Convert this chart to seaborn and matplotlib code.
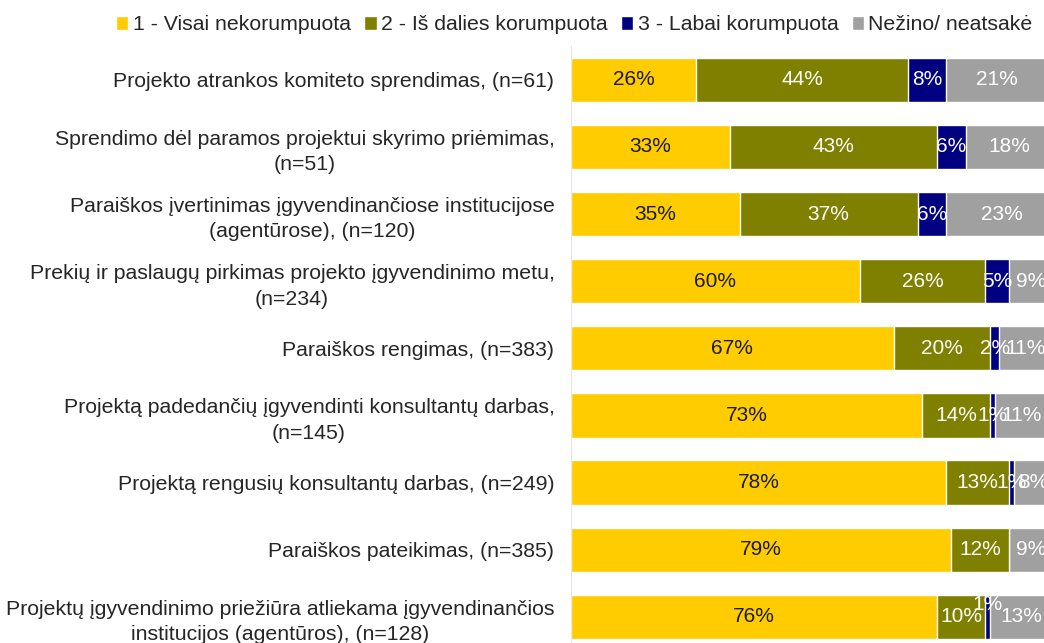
import numpy as np
import pandas as pd
import matplotlib.pyplot as plt
import seaborn as sns

# Data
categories = [
    'Projekto atrankos komiteto sprendimas, (n=61)',
    'Sprendimo dėl paramos projektui skyrimo priėmimas,\n(n=51)',
    'Paraiškos įvertinimas įgyvendinančiose institucijose\n(agentūrose), (n=120)',
    'Prekių ir paslaugų pirkimas projekto įgyvendinimo metu,\n(n=234)',
    'Paraiškos rengimas, (n=383)',
    'Projektą padedančių įgyvendinti konsultantų darbas,\n(n=145)',
    'Projektą rengusių konsultantų darbas, (n=249)',
    'Paraiškos pateikimas, (n=385)',
    'Projektų įgyvendinimo priežiūra atliekama įgyvendinančios\ninstitucijos (agentūros), (n=128)',
]
series_names = ['1 - Visai nekorumpuota', '2 - Iš dalies korumpuota',
                '3 - Labai korumpuota', 'Nežino/ neatsakė']
visai = [26, 33, 35, 60, 67, 73, 78, 79, 76]
is_dalies = [44, 43, 37, 26, 20, 14, 13, 12, 10]
labai = [8, 6, 6, 5, 2, 1, 1, 0, 1]
nezino = [21, 18, 23, 9, 11, 11, 8, 9, 13]
colors = ['#FFCC00', '#808000', '#000080', '#A0A0A0']
text_colors = ['#1a1a1a', 'white', 'white', 'white']

df = pd.DataFrame({'Kategorija': categories, series_names[0]: visai,
                   series_names[1]: is_dalies, series_names[2]: labai,
                   series_names[3]: nezino})

# cumulative sums for stacking
cum = df[series_names].cumsum(axis=1)

sns.set_style('white')
plt.rcParams['font.family'] = ['Liberation Sans', 'DejaVu Sans']

fig = plt.figure(figsize=(10.44, 6.43), dpi=100)
ax = fig.add_axes([0.547, 0.0, 0.461, 0.928])

# draw from the longest stack down so each segment shows
for i in reversed(range(len(series_names))):
    sns.barplot(x=cum[series_names[i]], y=df['Kategorija'], color=colors[i],
                saturation=1, width=0.66, errorbar=None, orient='h', ax=ax,
                label=series_names[i])

# value labels
for i, name in enumerate(series_names):
    for j in range(len(df)):
        v = df[name].iloc[j]
        if v == 0:
            continue
        x = cum[name].iloc[j] - v / 2
        y = j
        if name == series_names[2] and j == 8:
            y = j - 0.18  # Excel pushed this one up
        ax.text(x, y, f'{v}%', ha='center', va='center', fontsize=15,
                color=text_colors[i])

ax.set_xlim(0, 100)
ax.set_ylim(8.39, -0.5)
ax.set_xlabel('')
ax.set_ylabel('')
ax.set_xticks([])
ax.tick_params(axis='y', length=0, pad=12, labelsize=15.3)
for lbl in ax.get_yticklabels():
    lbl.set_linespacing(1.42)
    lbl.set_horizontalalignment('right')
    lbl.set_multialignment('center')
for s in ['top', 'right', 'bottom']:
    ax.spines[s].set_visible(False)
ax.spines['left'].set_color('#e6e6e6')

# legend in series order, placed at figure top
handles, labels = ax.get_legend_handles_labels()
ax.get_legend().remove()
order = [labels.index(n) for n in series_names]
fig.legend([handles[k] for k in order], series_names, loc='center right',
           bbox_to_anchor=(1037 / 1044, 1 - 25 / 643), ncol=4, frameon=False,
           fontsize=15.3, handlelength=0.6, handleheight=0.6,
           handletextpad=0.2, columnspacing=0.62, borderaxespad=0,
           borderpad=0.2)

fig.savefig('out.png', dpi=100)
